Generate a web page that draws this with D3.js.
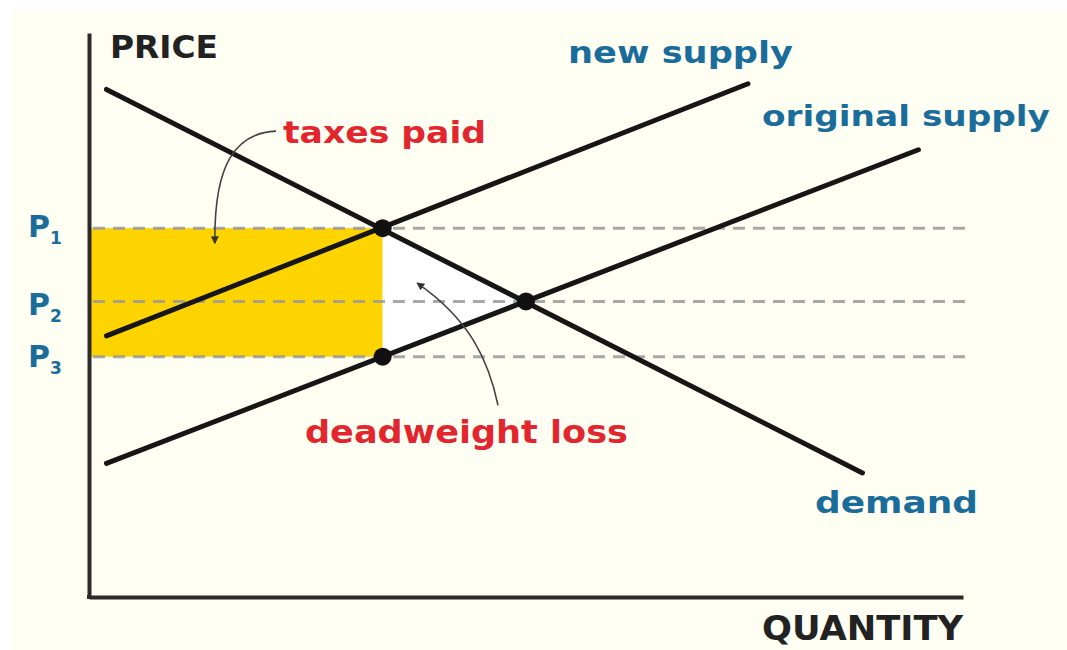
<!DOCTYPE html>
<html>
<head>
<meta charset="utf-8">
<script src="https://cdn.jsdelivr.net/npm/d3@7"></script>
<style>
  body { margin: 0; background: #fff; }
  text { font-family: "DejaVu Sans", sans-serif; font-weight: bold; }
</style>
</head>
<body>
<svg id="chart"></svg>
<script>
// Chart data (quantity and price in arbitrary 0-100 units)
const quantityDomain = [0, 100];
const priceDomain = [0, 100];

const curveNames = ["demand", "original supply", "new supply"];
const curveQuantities = [[2, 88.5], [2, 94.9], [2, 75.4]];
const curvePrices = [[90, 22], [23.7, 79.3], [46.3, 91]];

const priceLabels = ["1", "2", "3"];
const priceLevels = [65.4, 52.4, 42.6];

const taxQuantity = 33.6;
const equilibriumQuantity = 50;

const WIDTH = 1067;
const HEIGHT = 650;
const RED = "#e3262d";
const BLUE = "#1a6d9a";
const YELLOW = "#fdd300";
const CREAM = "#fffef2";

const svg = d3.select("#chart").attr("width", WIDTH).attr("height", HEIGHT);

// Background
svg.append("rect").attr("width", WIDTH).attr("height", HEIGHT).style("fill", "#fff");
svg.append("rect").attr("x", 12).attr("y", 10)
  .attr("width", WIDTH - 12).attr("height", HEIGHT - 10).style("fill", CREAM);

// Scales
const x = d3.scaleLinear().domain(quantityDomain).range([89, 963]);
const y = d3.scaleLinear().domain(priceDomain).range([597, 33]);

// Taxes paid rectangle
svg.append("rect")
  .attr("x", x(0) + 2)
  .attr("y", y(priceLevels[0]))
  .attr("width", x(taxQuantity) - x(0) - 2)
  .attr("height", y(priceLevels[2]) - y(priceLevels[0]))
  .style("fill", YELLOW);

// Deadweight loss triangle
svg.append("path")
  .attr("d", d3.line()([
    [x(taxQuantity), y(priceLevels[0])],
    [x(equilibriumQuantity), y(priceLevels[1])],
    [x(taxQuantity), y(priceLevels[2])],
  ]) + "Z")
  .style("fill", "#ffffff");

// Dashed price lines
svg.selectAll("line.price-line")
  .data(priceLevels)
  .enter()
  .append("line")
  .classed("price-line", true)
  .attr("x1", x(0) + 4)
  .attr("x2", x(100.4))
  .attr("y1", (d) => y(d))
  .attr("y2", (d) => y(d))
  .style("stroke", "#9a9a9a")
  .style("stroke-width", 3)
  .style("stroke-dasharray", "12 8")
  .style("opacity", 0.85);

// Axes
const yAxis = svg.append("g")
  .attr("transform", `translate(${x(0)},0)`)
  .call(d3.axisLeft(y).ticks(0).tickSizeOuter(0));
const xAxis = svg.append("g")
  .attr("transform", `translate(0,${y(0)})`)
  .call(d3.axisBottom(x).ticks(0).tickSizeOuter(0));
[yAxis, xAxis].forEach((g) => {
  g.select(".domain").style("stroke", "#2b2b2b").style("stroke-width", 4);
});
// square the corner
svg.append("rect").attr("x", x(0) - 2).attr("y", y(0) - 2)
  .attr("width", 4).attr("height", 4).style("fill", "#2b2b2b");

// Supply & demand lines
const line = d3.line().x((d) => x(d[0])).y((d) => y(d[1]));
svg.selectAll("path.curve")
  .data(curveNames)
  .enter()
  .append("path")
  .classed("curve", true)
  .attr("d", (_, i) => line([
    [curveQuantities[i][0], curvePrices[i][0]],
    [curveQuantities[i][1], curvePrices[i][1]],
  ]))
  .style("stroke", "#161616")
  .style("stroke-width", 5)
  .style("stroke-linecap", "round")
  .style("fill", "none");

// Dots
const dots = [
  [taxQuantity, priceLevels[0]],
  [equilibriumQuantity, priceLevels[1]],
  [taxQuantity, priceLevels[2]],
];
svg.selectAll("circle.dot")
  .data(dots)
  .enter()
  .append("circle")
  .classed("dot", true)
  .attr("cx", (d) => x(d[0]))
  .attr("cy", (d) => y(d[1]))
  .attr("r", 9)
  .style("fill", "#111");

// Arrow marker
svg.append("defs").append("marker")
  .attr("id", "arrow")
  .attr("viewBox", "0 0 10 10")
  .attr("refX", 8).attr("refY", 5)
  .attr("markerWidth", 5).attr("markerHeight", 5)
  .attr("orient", "auto")
  .append("path")
  .attr("d", "M0,0L10,5L0,10Z")
  .style("fill", "#333");

// Annotation arrows
const arrowPath = (p) =>
  `M${x(p[0][0])},${y(p[0][1])}C${x(p[1][0])},${y(p[1][1])} ${x(p[2][0])},${y(p[2][1])} ${x(p[3][0])},${y(p[3][1])}`;
svg.append("path")
  .attr("d", arrowPath([[21.4, 82.6], [16.7, 82.3], [14.3, 76.6], [14.4, 62.8]]))
  .attr("marker-end", "url(#arrow)")
  .style("stroke", "#444").style("stroke-width", 1.6).style("fill", "none");
svg.append("path")
  .attr("d", arrowPath([[46.8, 34.0], [45.7, 42.0], [43.6, 49.1], [37.6, 55.6]]))
  .attr("marker-end", "url(#arrow)")
  .style("stroke", "#444").style("stroke-width", 1.6).style("fill", "none");

// Text labels
const addLabel = (txt, px, py, size, len, color) =>
  svg.append("text")
    .attr("x", px).attr("y", py)
    .attr("textLength", len)
    .attr("lengthAdjust", "spacingAndGlyphs")
    .style("font-size", size + "px")
    .style("fill", color)
    .text(txt);

addLabel("PRICE", 110, 58, 32, 108, "#222");
addLabel("QUANTITY", 762, 640, 34, 201, "#222");
addLabel("taxes paid", 283, 143, 30, 203, RED);
addLabel("deadweight loss", 305, 443, 32, 323, RED);
addLabel("new supply", 568, 63, 30, 225, BLUE);
addLabel("original supply", 762, 126, 29, 288, BLUE);
addLabel("demand", 815, 513, 30, 163, BLUE);

// Price level labels
const pOffsets = [9, 14, 10];
priceLevels.forEach((p, i) => {
  const t = svg.append("text")
    .attr("x", 28).attr("y", y(p) + pOffsets[i])
    .style("font-size", "30px")
    .style("fill", BLUE);
  t.append("tspan").text("P");
  t.append("tspan").attr("dy", 7).style("font-size", "17px").text(priceLabels[i]);
});
</script>
</body>
</html>
